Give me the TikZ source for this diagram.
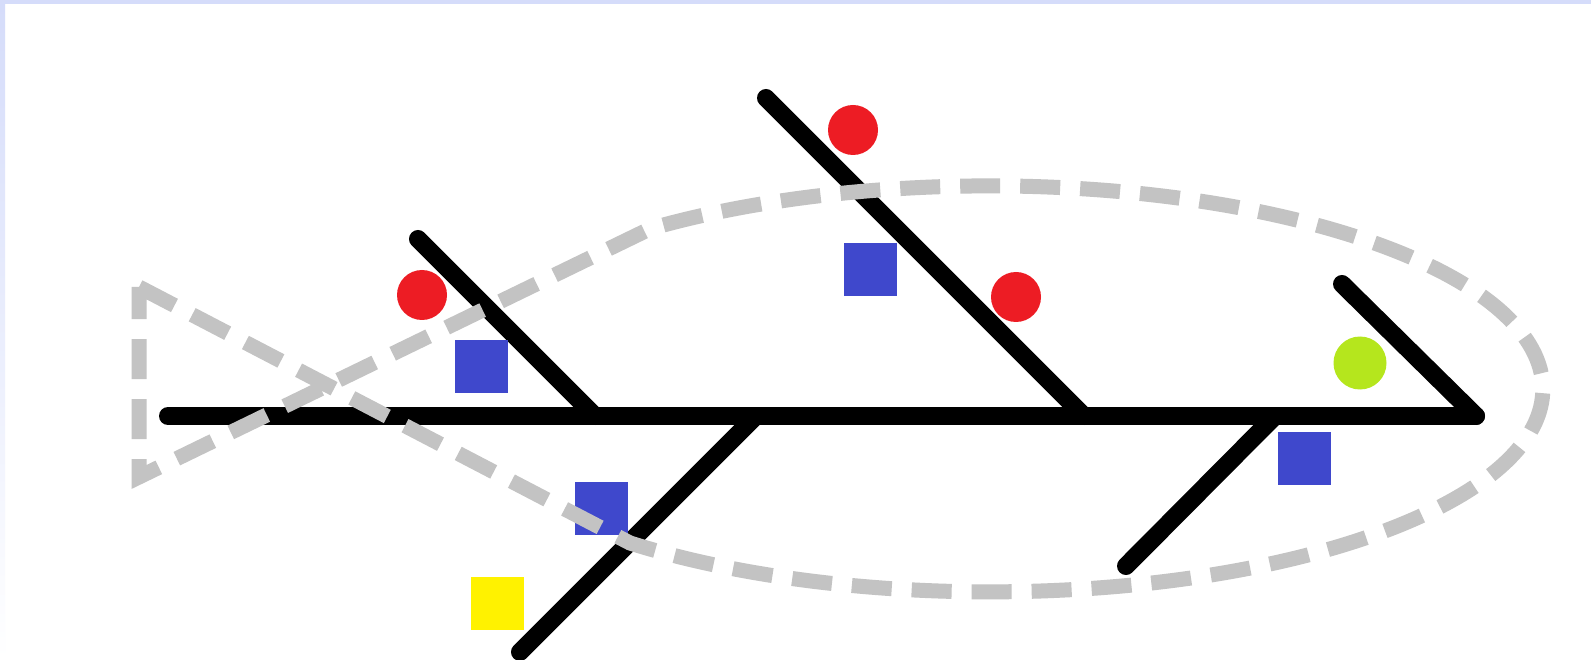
\documentclass[tikz,border=0pt]{standalone}
\usetikzlibrary{calc}
\definecolor{bandblue}{RGB}{213,220,250}
\definecolor{pred}{RGB}{237,28,36}
\definecolor{pblue}{RGB}{63,72,204}
\definecolor{pyellow}{RGB}{255,242,0}
\definecolor{pgreen}{RGB}{181,230,29}
\definecolor{pgray}{RGB}{195,195,195}
\begin{document}
\begin{tikzpicture}[x=1pt,y=1pt,
  bone/.style={line width=18pt, line cap=round, line join=round, draw=black},
  dot/.style={circle, fill=pred, minimum size=50pt, inner sep=0pt, draw=none},
  sq/.style={rectangle, fill=pblue, minimum size=53pt, inner sep=0pt, draw=none},
  outline/.style={draw=pgray, line width=15pt, dash pattern=on 40pt off 20pt, line join=miter}]
\fill[white] (0,0) rectangle (1591,-660);
\useasboundingbox (0,0) rectangle (1591,-660);
\fill[bandblue] (0,0) rectangle (1591,-4);
\shade[top color=bandblue, bottom color=white] (0,-4) rectangle (5,-660);
% skeleton
\coordinate (tailL) at (168,-416);
\coordinate (head) at (1476,-416);
\coordinate (b1top) at (418,-239);
\coordinate (b1base) at (595,-416);
\coordinate (b2top) at (766,-98);
\coordinate (b2base) at (1084,-416);
\coordinate (b3top) at (1342,-284);
\coordinate (b4base) at (756,-416);
\coordinate (b4end) at (520,-652);
\coordinate (b5base) at (1275,-416);
\coordinate (b5end) at (1126,-566);
\draw[bone] (tailL) -- (head);
\draw[bone] (b1top) -- (b1base);
\draw[bone] (b2top) -- (b2base);
\draw[bone] (b3top) -- (head);
\draw[bone] (b4base) -- (b4end);
\draw[bone] (b5base) -- (b5end);
% markers
\node[dot] (r1) at (422,-295) {};
\node[dot] (r2) at (853,-130) {};
\node[dot] (r3) at (1016,-297) {};
\node[dot, fill=pgreen, minimum size=53pt] (g1) at (1360,-363) {};
\node[sq] (s1) at (481,-366.5) {};
\node[sq] (s2) at (870,-269.5) {};
\node[sq] (s3) at (1304.5,-458) {};
\node[sq] (s4) at (601.5,-508.5) {};
\node[sq, fill=pyellow] (y1) at (497.5,-603) {};
% fish outline
\coordinate (tt) at (139,-287);
\coordinate (tb) at (139,-477);
\coordinate (lowj) at (630,-543);
\draw[outline] (tt) -- (lowj) arc[start angle=-130.6, end angle=127.9, x radius=553, y radius=203] -- (tb) -- cycle;
\end{tikzpicture}
\end{document}
